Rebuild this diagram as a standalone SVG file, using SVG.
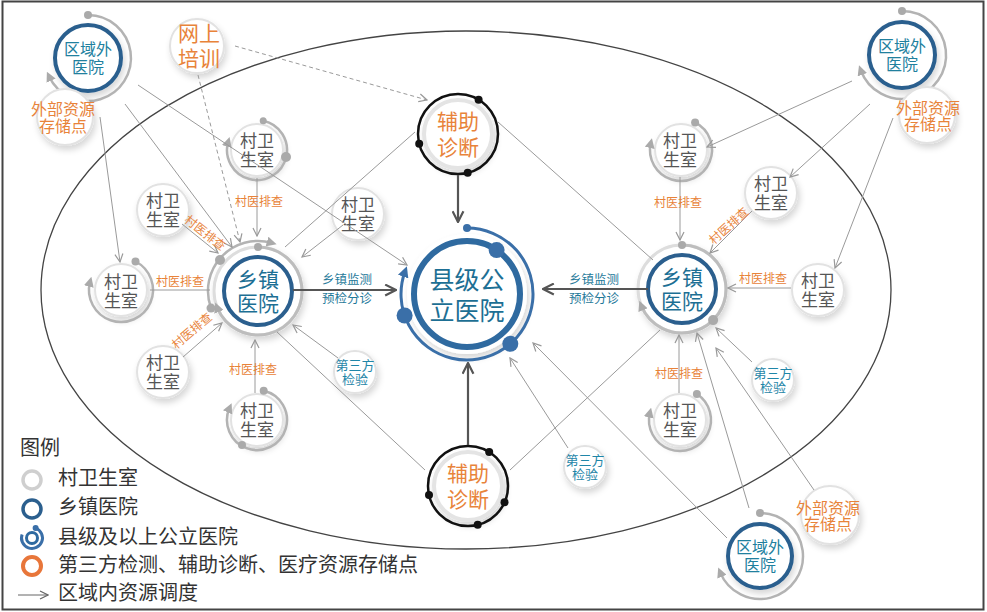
<svg xmlns="http://www.w3.org/2000/svg" width="987" height="612" viewBox="0 0 987 612">
<defs>
<filter id="sh" x="-50%" y="-50%" width="200%" height="200%"><feDropShadow dx="2" dy="4" stdDeviation="3" flood-color="#000" flood-opacity="0.16"/></filter>
<marker id="ah" viewBox="0 0 10 10" refX="9" refY="5" markerWidth="10" markerHeight="10" markerUnits="userSpaceOnUse" orient="auto"><path d="M1,1 L9,5 L1,9" fill="none" stroke="#999" stroke-width="1.2"/></marker>
<marker id="ahd" viewBox="0 0 12 12" refX="11" refY="6" markerWidth="13" markerHeight="13" markerUnits="userSpaceOnUse" orient="auto"><path d="M1,1 L11,6 L1,11" fill="none" stroke="#555" stroke-width="2"/></marker>
<marker id="ahg" viewBox="0 0 10 10" refX="5" refY="5" markerWidth="10" markerHeight="10" markerUnits="userSpaceOnUse" orient="auto"><path d="M0,0 L10,5 L0,10 z" fill="#aaa"/></marker>
<marker id="ahb" viewBox="0 0 10 10" refX="5" refY="5" markerWidth="11" markerHeight="11" markerUnits="userSpaceOnUse" orient="auto"><path d="M0,0 L10,5 L0,10 z" fill="#3a6fa8"/></marker>
<marker id="ahl" viewBox="0 0 10 10" refX="9" refY="5" markerWidth="10" markerHeight="10" markerUnits="userSpaceOnUse" orient="auto"><path d="M1,1 L9,5 L1,9" fill="none" stroke="#666" stroke-width="1.2"/></marker>
</defs>
<style>
text{font-family:"Liberation Sans","Noto Sans CJK SC",sans-serif;text-anchor:middle;dominant-baseline:central}
.vc{fill:#fff;stroke:#e2e2e2;stroke-width:2;filter:url(#sh)}
.vt{font-size:17px;fill:#555}
.ga{fill:none;stroke:#b3b3b3;stroke-width:2.5}
.gr{fill:none;stroke:#bdbdbd;stroke-width:3}
.gd{fill:#aaa}
.ln{fill:none;stroke:#9a9a9a;stroke-width:1}
.arr{marker-end:url(#ah)}
.dash{stroke-dasharray:4 3}
.thk{fill:none;stroke:#555;stroke-width:2.2;marker-end:url(#ahd)}
.lbl{font-size:12px;fill:#e8833a}
.tl{font-size:12.5px;fill:#1f7a9a}
.ot{fill:#e8833a}
.bt{fill:#1d6f94}
.ht{fill:#21809e;font-size:16px}
.st{fill:#e8833a;font-size:16px}
.tt{fill:#1f86a8;font-size:13px}
.ring{fill:#fff;stroke:#2b5f8e;stroke-width:4}
.blk{fill:none;stroke:#111;stroke-width:2.5}
.bd{fill:#111}
.lg{font-size:20px;fill:#333;text-anchor:start}
</style>

<rect x="2.5" y="1.5" width="981" height="608" fill="#fff" stroke="#444" stroke-width="2"/>
<ellipse cx="466" cy="290" rx="425" ry="259" fill="none" stroke="#444" stroke-width="1.3"/>

<!-- nodes -->
<g id="out-hosp-tl">
<circle cx="88" cy="58" r="33" class="ring" filter="url(#sh)"/>
<path d="M88,15 A43,43 0 1 1 49,76.2" class="ga" marker-end="url(#ahg)"/>
<circle cx="88" cy="15" r="4" class="gd"/>
<text x="88" y="49" class="ht">区域外<tspan x="88" dy="18">医院</tspan></text>
</g>
<g id="store-tl">
<circle cx="65" cy="117" r="28" class="vc"/>
<text x="63" y="109" class="st">外部资源<tspan x="63" dy="17">存储点</tspan></text>
</g>
<g id="online">
<circle cx="197" cy="46" r="27" class="vc"/>
<text x="199" y="33" font-size="21" class="ot">网上<tspan x="199" dy="25">培训</tspan></text>
</g>
<g id="out-hosp-tr">
<circle cx="902" cy="55" r="33" class="ring" filter="url(#sh)"/>
<path d="M902,11 A44,44 0 1 1 860.7,70" class="ga" marker-end="url(#ahg)"/>
<circle cx="902" cy="11" r="4" class="gd"/>
<text x="902" y="46" class="ht">区域外<tspan x="902" dy="18">医院</tspan></text>
</g>
<g id="store-tr">
<circle cx="927" cy="115" r="28" class="vc"/>
<text x="928" y="108" class="st">外部资源<tspan x="928" dy="16">存储点</tspan></text>
</g>
<g id="out-hosp-br">
<circle cx="760" cy="556" r="32" class="ring" filter="url(#sh)"/>
<path d="M760,513 A43,43 0 1 1 720.1,572.1" class="ga" marker-end="url(#ahg)"/>
<circle cx="760" cy="513" r="4" class="gd"/>
<text x="760" y="547" class="ht">区域外<tspan x="760" dy="18">医院</tspan></text>
</g>
<g id="store-br">
<circle cx="830" cy="515" r="29" class="vc"/>
<text x="828" y="508" class="st">外部资源<tspan x="828" dy="16">存储点</tspan></text>
</g>

<g id="vil-a">
<circle cx="257" cy="150" r="26" class="vc"/>
<path d="M263.2,120.7 A30,30 0 1 1 228.2,141.7" class="ga" marker-end="url(#ahg)"/>
<circle cx="263.2" cy="120.7" r="3.5" class="gd"/><circle cx="286" cy="157" r="5" class="gd"/>
<text x="257" y="141" class="vt">村卫<tspan x="257" dy="19">生室</tspan></text>
</g>
<g id="vil-b">
<circle cx="163" cy="210" r="26" class="vc"/>
<text x="163" y="201" class="vt">村卫<tspan x="163" dy="19">生室</tspan></text>
</g>
<g id="vil-c">
<circle cx="121" cy="290" r="26" class="vc"/>
<path d="M135.5,261.5 A32,32 0 1 1 90.1,281.7" class="ga" marker-end="url(#ahg)"/>
<circle cx="135.5" cy="261.5" r="4" class="gd"/>
<text x="121" y="282" class="vt">村卫<tspan x="121" dy="19">生室</tspan></text>
</g>
<g id="vil-d">
<circle cx="163" cy="372" r="26" class="vc"/>
<text x="163" y="363" class="vt">村卫<tspan x="163" dy="19">生室</tspan></text>
</g>
<g id="vil-e">
<circle cx="257" cy="420" r="26" class="vc"/>
<path d="M263.7,390.8 A30,30 0 1 1 229.6,407.8" class="ga" marker-end="url(#ahg)"/>
<circle cx="263.7" cy="390.8" r="4" class="gd"/><circle cx="242" cy="445" r="4" class="gd"/>
<text x="257" y="411" class="vt">村卫<tspan x="257" dy="19">生室</tspan></text>
</g>
<g id="vil-m">
<circle cx="358" cy="214" r="26" class="vc"/>
<text x="358" y="205" class="vt">村卫<tspan x="358" dy="19">生室</tspan></text>
</g>
<g id="vil-f">
<circle cx="681" cy="150" r="26" class="vc"/>
<path d="M695.1,122.4 A31,31 0 1 1 650.8,143" class="ga" marker-end="url(#ahg)"/>
<circle cx="695.1" cy="122.4" r="4" class="gd"/>
<text x="680" y="141" class="vt">村卫<tspan x="680" dy="19">生室</tspan></text>
</g>
<g id="vil-g">
<circle cx="771" cy="193" r="26" class="vc"/>
<text x="771" y="184" class="vt">村卫<tspan x="771" dy="19">生室</tspan></text>
</g>
<g id="vil-h">
<circle cx="818" cy="290" r="26" class="vc"/>
<text x="818" y="281" class="vt">村卫<tspan x="818" dy="19">生室</tspan></text>
</g>
<g id="vil-i">
<circle cx="680" cy="420" r="26" class="vc"/>
<path d="M696.9,394 A31,31 0 1 1 649.9,412.5" class="ga" marker-end="url(#ahg)"/>
<circle cx="696.9" cy="394" r="4" class="gd"/>
<text x="680" y="411" class="vt">村卫<tspan x="680" dy="19">生室</tspan></text>
</g>

<g id="third-1">
<circle cx="355" cy="372" r="21" class="vc"/>
<text x="355" y="365" class="tt">第三方<tspan x="355" dy="14">检验</tspan></text>
</g>
<g id="third-2">
<circle cx="585" cy="467" r="21" class="vc"/>
<text x="585" y="460" class="tt">第三方<tspan x="585" dy="14">检验</tspan></text>
</g>
<g id="third-3">
<circle cx="773" cy="380" r="21" class="vc"/>
<text x="773" y="373" class="tt">第三方<tspan x="773" dy="14">检验</tspan></text>
</g>

<g id="town-l">
<circle cx="258" cy="291" r="44" fill="#fff" stroke="#ddd" stroke-width="3" filter="url(#sh)"/>
<path d="M258,247 A44,44 0 1 1 217.1,307.2" class="gr" marker-end="url(#ahg)"/>
<path d="M211,308.1 A50,50 0 0 1 271.8,242.9" class="ga" marker-end="url(#ahg)"/>
<circle cx="258" cy="247" r="4" class="gd"/><circle cx="211" cy="308.1" r="4.5" class="gd"/><circle cx="220" cy="260" r="5" class="gd"/>
<circle cx="258" cy="291" r="34" class="ring"/>
<text x="258" y="279" font-size="21" class="bt">乡镇<tspan x="258" dy="24">医院</tspan></text>
</g>
<g id="town-r">
<circle cx="682" cy="289" r="44" fill="#fff" stroke="#ddd" stroke-width="3" filter="url(#sh)"/>
<path d="M682,245 A44,44 0 1 1 641.2,305.5" class="gr" marker-end="url(#ahg)"/>
<circle cx="682" cy="245" r="4" class="gd"/><circle cx="713.1" cy="320.1" r="5" class="gd"/>
<circle cx="682" cy="289" r="34" class="ring"/>
<text x="682" y="277" font-size="21" class="bt">乡镇<tspan x="682" dy="24">医院</tspan></text>
</g>

<g id="county">
<circle cx="467" cy="294" r="60" fill="#fff" filter="url(#sh)"/>
<path d="M467,228 A66,66 0 1 1 405,271.4" fill="none" stroke="#3a6fa8" stroke-width="3" marker-end="url(#ahb)"/>
<circle cx="467" cy="294" r="53" fill="#fff" stroke="#2f6aa0" stroke-width="6"/>
<circle cx="467" cy="228" r="4" fill="#3a6fa8"/>
<circle cx="496.6" cy="250.1" r="8" fill="#3a6fa8"/>
<circle cx="404.6" cy="315.5" r="8" fill="#3a6fa8"/>
<circle cx="510.3" cy="343.8" r="8" fill="#3a6fa8"/>
<text x="467" y="280" font-size="25" class="bt">县级公<tspan x="467" dy="31">立医院</tspan></text>
</g>

<g id="diag-top">
<circle cx="458" cy="134" r="34" fill="#fff" stroke="#e4e4e4" stroke-width="4" filter="url(#sh)"/>
<circle cx="458" cy="134" r="40" class="blk"/>
<circle cx="478.6" cy="99.7" r="4" class="bd"/><circle cx="419.2" cy="143.7" r="4" class="bd"/><circle cx="467.7" cy="172.8" r="4" class="bd"/>
<text x="458" y="121" font-size="21" class="ot">辅助<tspan x="458" dy="26">诊断</tspan></text>
</g>
<g id="diag-bottom">
<circle cx="468" cy="486" r="34" fill="#fff" stroke="#e4e4e4" stroke-width="4" filter="url(#sh)"/>
<circle cx="468" cy="486" r="40" class="blk"/>
<circle cx="489.2" cy="452.1" r="4" class="bd"/><circle cx="429" cy="495" r="4" class="bd"/><circle cx="504.5" cy="502.3" r="4" class="bd"/><circle cx="477.7" cy="524.8" r="4" class="bd"/>
<text x="468" y="473" font-size="21" class="ot">辅助<tspan x="468" dy="26">诊断</tspan></text>
</g>

<!-- connectors -->
<g id="connectors">
<path class="ln arr" d="M138,85 L407,265"/>
<path class="ln arr" d="M125,104 L232,247"/>
<path class="ln arr" d="M100,117 L120,262"/>
<path class="ln arr dash" d="M198,75 L240,242"/>
<path class="ln arr dash" d="M235,46 L427,100"/>
<path class="ln" d="M415,132 L285,247"/>
<path class="ln" d="M498,122 L653,260"/>
<path class="ln arr" d="M852,81 L707,147"/>
<path class="ln arr" d="M870,104 L790,177"/>
<path class="ln arr" d="M893,118 L835,268"/>
<path class="ln arr" d="M749,508 L697,333"/>
<path class="ln arr" d="M727,538 L533,343"/>
<path class="ln arr" d="M568,448 L510,358"/>
<path class="ln arr" d="M338,358 L293,325"/>
<path class="ln" d="M277,332 L425,470"/>
<path class="ln" d="M510,470 L660,330"/>
<path class="ln arr" d="M752,362 L716,328"/>
<path class="ln arr" d="M814,490 L716,348"/>
<path class="ln arr" d="M343,225 L302,257"/>
<path class="ln arr" d="M257,178 L257,236"/>
<path class="ln arr" d="M182,224 L218,253"/>
<path class="ln" d="M150,290 L210,290"/>
<path class="ln arr" d="M183,357 L222,323"/>
<path class="ln arr" d="M255,393 L255,340"/>
<path class="ln arr" d="M680,177 L680,240"/>
<path class="ln arr" d="M752,211 L710,253"/>
<path class="ln arr" d="M791,288 L728,288"/>
<path class="ln arr" d="M679,393 L679,335"/>
<path class="thk" d="M458,175 L458,222"/>
<path class="thk" d="M468,445 L468,363"/>
<path class="thk" d="M293,290 L396,290"/>
<path class="thk" d="M648,289 L543,289"/>
<text x="259" y="202" class="lbl">村医排查</text>
<text x="205" y="233" class="lbl" transform="rotate(38 205 233)">村医排查</text>
<text x="180" y="282" class="lbl">村医排查</text>
<text x="192" y="331" class="lbl" transform="rotate(-40 192 331)">村医排查</text>
<text x="253" y="370" class="lbl">村医排查</text>
<text x="678" y="203" class="lbl">村医排查</text>
<text x="729" y="226" class="lbl" transform="rotate(-42 729 226)">村医排查</text>
<text x="763" y="279" class="lbl">村医排查</text>
<text x="679" y="374" class="lbl">村医排查</text>
<text x="347" y="280" class="tl">乡镇监测<tspan x="347" dy="19">预检分诊</tspan></text>
<text x="594" y="280" class="tl">乡镇监测<tspan x="594" dy="19">预检分诊</tspan></text>
</g>

<g id="legend">
<text x="20" y="448" class="lg">图例</text>
<circle cx="32" cy="480" r="9" fill="#fff" stroke="#cfcfcf" stroke-width="3.5"/>
<text x="58" y="478" class="lg">村卫生室</text>
<circle cx="32" cy="509" r="9" fill="#fff" stroke="#2b5f8e" stroke-width="3.5"/>
<text x="58" y="507" class="lg">乡镇医院</text>
<circle cx="32" cy="538" r="5.5" fill="#fff" stroke="#2f6aa0" stroke-width="3"/>
<path d="M35.6,528.1 A10.5,10.5 0 1 1 22.1,534.4" fill="none" stroke="#3a6fa8" stroke-width="3"/>
<circle cx="35.6" cy="528.1" r="3" fill="#3a6fa8"/>
<text x="58" y="537" class="lg">县级及以上公立医院</text>
<circle cx="32" cy="566" r="9" fill="#fff" stroke="#e8763a" stroke-width="4"/>
<text x="58" y="565" class="lg">第三方检测、辅助诊断、医疗资源存储点</text>
<path d="M18,595 L48,595" fill="none" stroke="#666" stroke-width="1" marker-end="url(#ahl)"/>
<text x="58" y="593" class="lg">区域内资源调度</text>
</g>
</svg>
